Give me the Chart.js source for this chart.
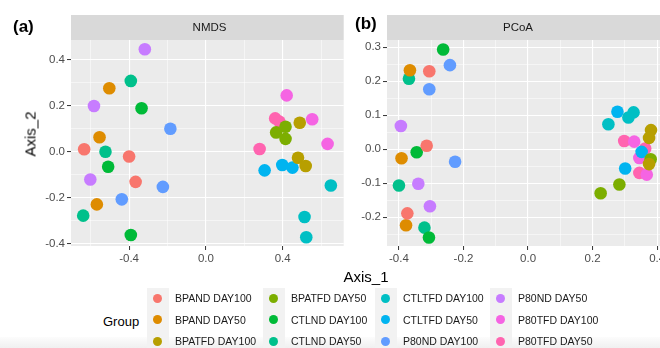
<!DOCTYPE html>
<html>
<head>
<meta charset="utf-8">
<script src="https://cdn.jsdelivr.net/npm/chart.js@4.4.1/dist/chart.umd.min.js"></script>
<style>
  html, body { margin: 0; padding: 0; background: #fff; overflow: hidden; }
  #wrap { position: relative; width: 660px; height: 348px; overflow: hidden; font-family: 'Liberation Sans', Arial, sans-serif; }
  canvas { position: absolute; top: 0; }
  .tag { position: absolute; font-weight: bold; font-size: 17px; color: #000; }
  .lab { position: absolute; color: #000; white-space: nowrap; }
  .keybox { position: absolute; background: #f2f2f2; }
  .dot { position: absolute; width: 9px; height: 9px; border-radius: 50%; }
  .ltxt { position: absolute; font-size: 10.5px; color: #1a1a1a; white-space: nowrap; line-height: 12px; }
  #fade { position: absolute; left: 0; top: 337px; width: 660px; height: 11px; background: linear-gradient(#fcfcfc, #f0f0f0); }
</style>
</head>
<body>
<div id="wrap">
  <canvas id="nmds" width="350" height="270" style="left:0"></canvas>
  <canvas id="pcoa" width="350" height="270" style="left:330px"></canvas>
  <div class="tag" style="left:13px;top:17px">(a)</div>
  <div class="tag" style="left:355px;top:14px">(b)</div>
  <div class="lab" style="left:30px;top:134px;font-size:15px;transform:translate(-50%,-50%) rotate(-90deg)">Axis_2</div>
  <div class="lab" style="left:366px;top:276px;font-size:15px;transform:translate(-50%,-50%)">Axis_1</div>
  <div class="lab" style="left:103px;top:321px;font-size:13px;transform:translateY(-50%)">Group</div>
  <div id="fade"></div>
  <div id="legend"></div>
</div>
<script>
const groups = [
  'BPAND DAY100', 'BPAND DAY50', 'BPATFD DAY100', 'BPATFD DAY50',
  'CTLND DAY100', 'CTLND DAY50', 'CTLTFD DAY100', 'CTLTFD DAY50',
  'P80ND DAY100', 'P80ND DAY50', 'P80TFD DAY100', 'P80TFD DAY50'
];
const colors = [
  '#F8766D', '#DE8C00', '#B79F00', '#7CAE00', '#00BA38', '#00C08B',
  '#00BFC4', '#00B4F0', '#619CFF', '#C77CFF', '#F564E3', '#FF64B0'
];

// NMDS, 3 samples per group (same order as groups)
const nmdsX = [
  [-0.634, -0.400, -0.366], [-0.503, -0.554, -0.568], [0.489, 0.480, 0.520], [0.415, 0.366, 0.415],
  [-0.335, -0.509, -0.391], [-0.391, -0.523, -0.639], [0.651, 0.514, 0.523], [0.398, 0.451, 0.306],
  [-0.185, -0.224, -0.438], [-0.318, -0.583, -0.602], [0.421, 0.554, 0.634], [0.361, 0.383, 0.280]
];
const nmdsY = [
  [0.012, -0.020, -0.130], [0.277, 0.064, -0.228], [0.127, -0.025, -0.061], [0.110, 0.085, 0.057],
  [0.190, -0.064, -0.361], [0.309, 0.001, -0.277], [-0.146, -0.283, -0.371], [-0.057, -0.068, -0.080],
  [0.101, -0.152, -0.206], [0.447, 0.200, -0.120], [0.246, 0.142, 0.035], [0.146, 0.132, 0.013]
];

// PCoA
const pcoaX = [
  [-0.306, -0.314, -0.374], [-0.366, -0.392, -0.378], [0.381, 0.375, 0.375], [0.380, 0.283, 0.225],
  [-0.263, -0.345, -0.307], [-0.369, -0.400, -0.321], [0.327, 0.311, 0.249], [0.277, 0.352, 0.301],
  [-0.242, -0.306, -0.226], [-0.394, -0.340, -0.304], [0.329, 0.345, 0.368], [0.298, 0.363, 0.345]
];
const pcoaY = [
  [0.229, 0.010, -0.189], [0.232, -0.027, -0.224], [0.056, 0.033, -0.044], [-0.030, -0.104, -0.130],
  [0.293, -0.009, -0.260], [0.207, -0.107, -0.231], [0.108, 0.093, 0.073], [0.110, -0.008, -0.057],
  [0.247, 0.176, -0.037], [0.068, -0.102, -0.168], [0.022, -0.026, -0.075], [0.024, 0.002, -0.070]
];

// tick labels (major) and minor grid positions
const nmdsXMajor = [-0.4, 0.0, 0.4];
const nmdsXMinor = [-0.6, -0.2, 0.2, 0.6];
const nmdsYMajor = [-0.4, -0.2, 0.0, 0.2, 0.4];
const nmdsYMinor = [-0.3, -0.1, 0.1, 0.3];
const pcoaXMajor = [-0.4, -0.2, 0.0, 0.2, 0.4];
const pcoaXMinor = [-0.3, -0.1, 0.1, 0.3];
const pcoaYMajor = [-0.2, -0.1, 0.0, 0.1, 0.2, 0.3];
const pcoaYMinor = [-0.25, -0.15, -0.05, 0.05, 0.15, 0.25];

const FONT = "'Liberation Sans', Arial, sans-serif";

const panelBg = {
  id: 'panelBg',
  beforeDraw(chart, args, opts) {
    const { ctx, chartArea: a } = chart;
    ctx.save();
    ctx.fillStyle = '#ebebeb';
    ctx.fillRect(a.left, a.top, a.right - a.left, a.bottom - a.top);
    ctx.fillStyle = '#d9d9d9';
    ctx.fillRect(a.left, a.top - 25, a.right - a.left, 25);
    ctx.fillStyle = '#1a1a1a';
    ctx.font = '11.5px ' + FONT;
    ctx.textAlign = 'center';
    ctx.textBaseline = 'middle';
    ctx.fillText(opts.text, (a.left + opts.textRight) / 2, a.top - 12);
    ctx.restore();
  }
};

function makeAxis(major, minor, min, max, fixSize, horizontal) {
  return {
    type: 'linear',
    min, max,
    border: { display: false },
    afterBuildTicks(scale) {
      const t = major.map(v => ({ value: v, major: true }))
        .concat(minor.map(v => ({ value: v, major: false })));
      t.sort((p, q) => p.value - q.value);
      scale.ticks = t;
    },
    afterFit(scale) {
      if (horizontal) scale.height = fixSize; else scale.width = fixSize;
      scale.paddingLeft = 0; scale.paddingRight = 0;
      scale.paddingTop = 0; scale.paddingBottom = 0;
    },
    grid: {
      color: '#ffffff',
      lineWidth: c => (c.tick && c.tick.major ? 1.1 : 0.5),
      tickColor: c => (c.tick && c.tick.major ? '#333333' : 'rgba(0,0,0,0)'),
      tickWidth: 1,
      tickLength: 4
    },
    ticks: {
      autoSkip: false,
      maxRotation: 0,
      padding: 2,
      color: '#4d4d4d',
      font: { family: FONT, size: 11.5 },
      callback: (v, i, ticks) => (ticks[i].major ? v.toFixed(1) : '')
    }
  };
}

function buildDatasets(xs, ys) {
  return groups.map((g, i) => ({
    label: g,
    data: xs[i].map((x, j) => ({ x, y: ys[i][j] })),
    backgroundColor: colors[i],
    borderWidth: 0,
    pointRadius: 6.3,
    pointHoverRadius: 6.3
  }));
}

function makeChart(id, xs, ys, xAxis, yAxis, padding, text, textRight) {
  return new Chart(document.getElementById(id), {
    type: 'scatter',
    data: { datasets: buildDatasets(xs, ys) },
    options: {
      responsive: false,
      animation: false,
      events: [],
      layout: { padding },
      plugins: {
        legend: { display: false },
        tooltip: { enabled: false },
        panelBg: { text, textRight }
      },
      scales: { x: xAxis, y: yAxis }
    },
    plugins: [panelBg]
  });
}

makeChart('nmds', nmdsX, nmdsY,
  makeAxis(nmdsXMajor, nmdsXMinor, -0.7026, 0.718, 24, true),
  makeAxis(nmdsYMajor, nmdsYMinor, -0.409, 0.487, 71, false),
  { left: 0, top: 40, right: 2, bottom: 0 }, 'NMDS', 348);

makeChart('pcoa', pcoaX, pcoaY,
  makeAxis(pcoaXMajor, pcoaXMinor, -0.437, 0.412, 24, true),
  makeAxis(pcoaYMajor, pcoaYMinor, -0.285, 0.321, 57, false),
  { left: 0, top: 40, right: 19, bottom: 0 }, 'PCoA', 331 - 12);

// legend: 4 columns x 3 rows, filled by column
const $legend = document.getElementById('legend');
const boxLeft = [147, 263, 375, 490];
const rowY = [298, 319.5, 341];
groups.forEach((g, i) => {
  const col = Math.floor(i / 3);
  const row = i % 3;
  if (row === 0) {
    const box = document.createElement('div');
    box.className = 'keybox';
    box.style.cssText = `left:${boxLeft[col]}px;top:288px;width:22px;height:60px`;
    $legend.append(box);
  }
  const dot = document.createElement('div');
  dot.className = 'dot';
  dot.style.cssText = `left:${boxLeft[col] + 5.5}px;top:${rowY[row] - 4.5}px;background:${colors[i]}`;
  $legend.append(dot);
  const txt = document.createElement('div');
  txt.className = 'ltxt';
  txt.textContent = g;
  txt.style.cssText = `left:${boxLeft[col] + 28}px;top:${rowY[row] - 6}px`;
  $legend.append(txt);
});
</script>
</body>
</html>
